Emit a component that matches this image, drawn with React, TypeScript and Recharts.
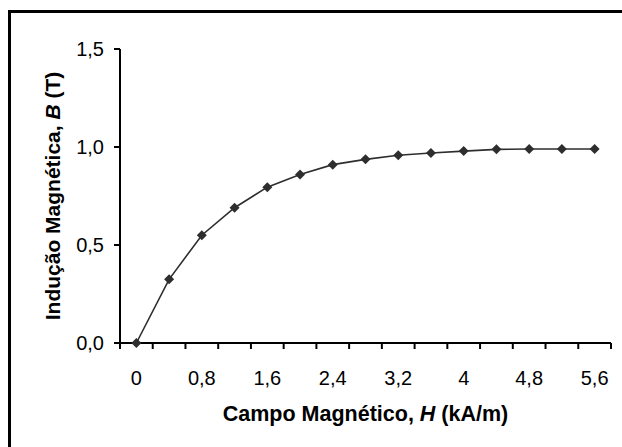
import { LineChart, Line, XAxis, YAxis } from 'recharts';

// Campo magnético H (kA/m) e indução B (T)
const H_VALUES = [0, 0.4, 0.8, 1.2, 1.6, 2.0, 2.4, 2.8, 3.2, 3.6, 4.0, 4.4, 4.8, 5.2, 5.6];
const B_VALUES = [0, 0.325, 0.55, 0.69, 0.795, 0.86, 0.91, 0.937, 0.958, 0.969, 0.979, 0.988, 0.99, 0.99, 0.99];

const X_LABEL_TICKS = [0, 0.8, 1.6, 2.4, 3.2, 4, 4.8, 5.6];
const X_MARK_TICKS = [-0.2, 0.2, 0.6, 1.0, 1.4, 1.8, 2.2, 2.6, 3.0, 3.4, 3.8, 4.2, 4.6, 5.0, 5.4, 5.8];
const Y_TICKS = [0, 0.5, 1.0, 1.5];

const data = H_VALUES.map((h, i) => ({ h, b: B_VALUES[i] }));
const X_ALL_TICKS = [...X_MARK_TICKS, ...X_LABEL_TICKS].sort((a, b) => a - b);

const FONT = '"Liberation Sans", Arial, sans-serif';
const INK = '#2e2e2e';

const fmtX = (v: number) => String(v).replace('.', ',');
const fmtY = (v: number) => v.toFixed(1).replace('.', ',');

const Diamond = (props: any) => {
  const { cx, cy } = props;
  if (cx == null || cy == null) return null;
  const r = 5;
  return <polygon points={`${cx},${cy - r} ${cx + r},${cy} ${cx},${cy + r} ${cx - r},${cy}`} fill={INK} />;
};

// marcas entre categorias, rótulos a cada 0,8
const XTick = (props: any) => {
  const { x, y, payload } = props;
  const v = payload.value;
  if (X_LABEL_TICKS.includes(v)) {
    return (
      <text x={x} y={y + 42} textAnchor="middle" fontFamily={FONT} fontSize={20} fill="#000">
        {fmtX(v)}
      </text>
    );
  }
  return <line x1={x} y1={y} x2={x} y2={y + 6} stroke="#000" strokeWidth={2} />;
};

const XTitle = (props: any) => {
  const { x, y, width } = props.viewBox;
  return (
    <text x={x + width / 2} y={y + 78} textAnchor="middle" fontFamily={FONT} fontSize={21.5} fontWeight="bold" fill="#000">
      Campo Magnético, <tspan fontStyle="italic">H</tspan> (kA/m)
    </text>
  );
};

const YTitle = (props: any) => {
  const { y, height } = props.viewBox;
  const cx = 52;
  const cy = y + height / 2;
  return (
    <text
      x={cx}
      y={cy}
      transform={`rotate(-90, ${cx}, ${cy})`}
      textAnchor="middle"
      dominantBaseline="central"
      fontFamily={FONT}
      fontSize={21}
      fontWeight="bold"
      fill="#000"
    >
      Indução Magnética, <tspan fontStyle="italic">B</tspan> (T)
    </text>
  );
};

export default function App() {
  return (
    <div style={{ position: 'fixed', left: 0, top: 0, width: 622, height: 447, overflow: 'hidden', background: '#fff' }}>
      <LineChart width={622} height={447} data={data} margin={{ top: 49, right: 11, bottom: 103, left: 0 }}>
        <XAxis
          dataKey="h"
          type="number"
          domain={[-0.2, 5.8]}
          ticks={X_ALL_TICKS}
          interval={0}
          tickSize={0}
          tickMargin={0}
          height={1}
          axisLine={{ stroke: '#000', strokeWidth: 2 }}
          tickLine={false}
          tick={<XTick />}
          label={<XTitle />}
        />
        <YAxis
          domain={[0, 1.5]}
          ticks={Y_TICKS}
          tickFormatter={fmtY}
          interval={0}
          width={120}
          tickSize={6}
          tickMargin={10}
          axisLine={{ stroke: '#000', strokeWidth: 2 }}
          tickLine={{ stroke: '#000', strokeWidth: 2 }}
          tick={{ fill: '#000', fontSize: 20, fontFamily: FONT }}
          label={<YTitle />}
        />
        <Line
          dataKey="b"
          stroke={INK}
          strokeWidth={1.6}
          dot={<Diamond />}
          activeDot={false}
          isAnimationActive={false}
        />
      </LineChart>
      <div
        style={{
          position: 'absolute',
          left: 8,
          top: 10,
          width: 700,
          height: 500,
          border: '3px solid #000',
          pointerEvents: 'none',
        }}
      />
    </div>
  );
}
